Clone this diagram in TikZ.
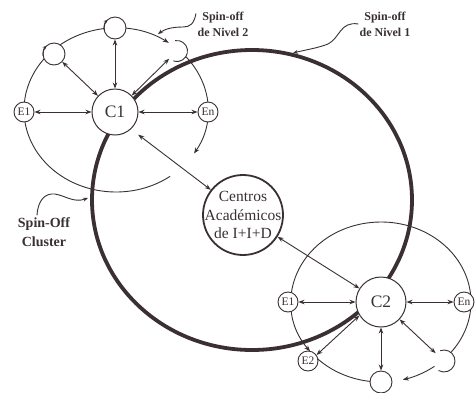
\documentclass[tikz,border=0pt]{standalone}
\usepackage{fontspec}
\setmainfont{Liberation Serif}
\usetikzlibrary{arrows.meta,calc}
\definecolor{ink}{RGB}{58,48,52}
\begin{document}
\begin{tikzpicture}[x=1pt,y=-1pt,
  >={Stealth[length=6pt,width=4.5pt]},
  ln/.style={draw=ink,line width=0.9pt},
  arr/.style={draw=ink,line width=0.9pt,<->},
  sm/.style={circle,draw=ink,line width=0.9pt,fill=white,minimum size=20pt,inner sep=0pt,text=ink,font=\fontsize{11.5}{12}\selectfont},
  big/.style={circle,draw=ink,line width=1pt,fill=white,inner sep=0pt,text=ink,font=\fontsize{17.5}{18}\selectfont},
  lab/.style={align=center,text=ink,font=\bfseries\fontsize{12}{16}\selectfont,inner sep=0pt},
  smalltip/.style={-{Stealth[length=5pt,width=4pt]}},
  looptip/.style={-{Stealth[length=4pt,width=3.5pt]}}
]
\useasboundingbox (0,0) rectangle (475,392);
\clip (0,0) rectangle (475,392);
\fill[white] (0,0) rectangle (475,392);

% thick ring (Spin-off de Nivel 1)
\coordinate (k0) at (252,200);
\draw[draw=ink,line width=3.8pt] (k0) ellipse[x radius=160,y radius=150];

% cluster ellipses
\coordinate (k1) at (116,110);
\coordinate (k2) at (381,302);
\draw[ln,->] ($(k1)+(54:92 and 82)$) arc[start angle=54,end angle=305,x radius=92,y radius=82];
\draw[ln,->] ($(k1)+(319.5:92 and 82)$) arc[start angle=319.5,end angle=392,x radius=92,y radius=82];
\draw[ln,->] ($(k2)+(39:90 and 80)$) arc[start angle=39,end angle=-218,x radius=90,y radius=80];
\draw[ln] ($(k2)+(96:90 and 80)$) arc[start angle=96,end angle=134.5,x radius=90,y radius=80];
\draw[ln,->] ($(k2)+(53.5:90 and 80)$) arc[start angle=53.5,end angle=76,x radius=90,y radius=80];

% cluster 1 nodes
\node[big,minimum size=46pt] (c1) at (115,112) {C1};
\node[sm] (e1a) at (24,112) {E1};
\node[sm] (ena) at (208,112) {En};
\node[sm,minimum size=22pt] (t1) at (54,54) {};
\node[sm,minimum size=22pt] (t2) at (115,28) {};
\node[sm,draw=none,fill=none,minimum size=21pt] (t3) at (177,51) {};
\draw[ln] ($(t3)+(-100:10.5)$) arc[start angle=-100,end angle=110,radius=10.5];
\draw[ln,looptip] ($(t1)+(170:11)$) arc[start angle=170,end angle=228,radius=11];
\draw[ln,looptip] ($(t2)+(170:11)$) arc[start angle=170,end angle=228,radius=11];

% centre
\node[big,minimum size=80pt,line width=1.8pt] (cen) at (243,215) {};
\node[align=center,text=ink,inner sep=0pt,font=\fontsize{15.5}{18.5}\selectfont] (centxt) at (cen.center) {Centros\\Académicos\\de I+I+D};

% cluster 2 nodes
\node[big,minimum size=50pt] (c2) at (381,302) {C2};
\node[sm] (e1b) at (288,302) {E1};
\node[sm] (e2b) at (308,361) {E2};
\node[sm] (enb) at (464,302) {En};
\node[sm,minimum size=22pt] (b1) at (381,382) {};
\node[sm,draw=none,fill=none,minimum size=22pt] (b2) at (444,361) {};
\draw[ln] ($(b2)+(-110:11)$) arc[start angle=-110,end angle=120,radius=11];

% arrows
\draw[arr] (c1) -- (e1a);
\draw[arr] (c1) -- (ena);
\draw[arr] (c1) -- (t2);
\draw[arr] (c1) -- (t1);
\draw[arr] (c1) -- (t3);
\draw[arr,shorten <=9pt] (c1.-47) -- (cen.142);
\draw[arr] (cen) -- (c2);
\draw[arr] (c2) -- (e1b);
\draw[arr] (c2) -- (enb);
\draw[arr] (c2.-148) -- (e2b.35);
\draw[arr] (c2) -- (b1);
\draw[arr] (c2) -- (b2);

% labels
\node[lab] (l2) at (223,24) {Spin-off\\de Nivel 2};
\node[lab] (l1) at (385,24) {Spin-off\\de Nivel 1};
\node[lab,font=\bfseries\fontsize{14}{19}\selectfont] (lc) at (44,232) {Spin-Off\\Cluster};

\coordinate (a2) at (158,34);
\coordinate (a1) at (293,53);
\coordinate (ac) at (88,198);
\draw[ln,smalltip] ([xshift=-1.5pt,yshift=-2pt]l2.north west) .. controls (194,24) and (190,27) .. (183,27) .. controls (172,27) and (165,29) .. (a2);
\draw[ln,smalltip] ([xshift=-1pt]l1.west) .. controls (340,21) and (340,38) .. (328,44) .. controls (318,48) and (305,50) .. (a1);
\draw[ln,smalltip] ([xshift=-7pt,yshift=2pt]lc.north) .. controls (38,200) and (45,193) .. (55,194) .. controls (66,196) and (74,203) .. (ac);
\end{tikzpicture}
\end{document}
